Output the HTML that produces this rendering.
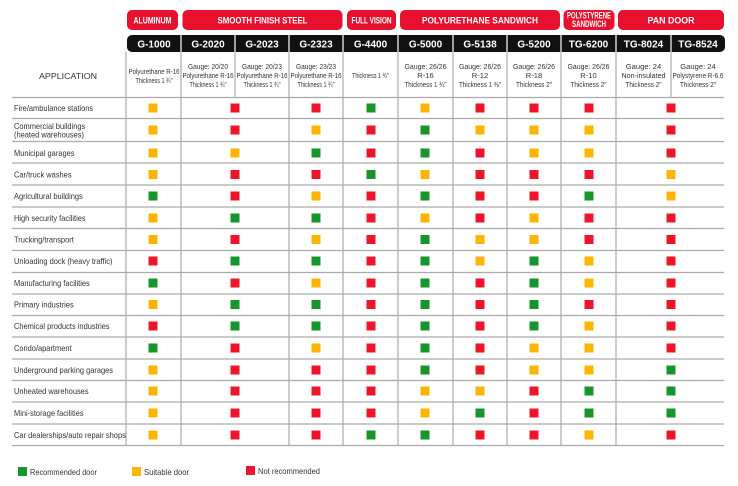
<!DOCTYPE html>
<html><head><meta charset="utf-8"><style>
html,body{margin:0;padding:0;background:#fff;width:738px;height:486px;overflow:hidden}
svg{display:block}
.h{font-family:"Liberation Sans",sans-serif;font-weight:bold;fill:#fff;font-size:9px;text-anchor:middle}
.k{font-family:"Liberation Sans",sans-serif;font-weight:bold;fill:#fff;font-size:10px;text-anchor:middle}
.d{font-family:"Liberation Sans",sans-serif;fill:#333;font-size:7.6px;text-anchor:middle}
.a{font-family:"Liberation Sans",sans-serif;fill:#333;font-size:8.3px}
.g{fill:#14962a}.y{fill:#ffb400}.r{fill:#f0142a}
</style></head><body>
<svg width="738" height="486" viewBox="0 0 738 486">
<rect x="127" y="10" width="51" height="20" rx="5" fill="#e8112d"/>
<rect x="182.5" y="10" width="160" height="20" rx="5" fill="#e8112d"/>
<rect x="347" y="10" width="49" height="20" rx="5" fill="#e8112d"/>
<rect x="400" y="10" width="160" height="20" rx="5" fill="#e8112d"/>
<rect x="563.5" y="10" width="51" height="20" rx="5" fill="#e8112d"/>
<rect x="618" y="10" width="106" height="20" rx="5" fill="#e8112d"/>
<text class="h" x="152.5" y="23.5" font-size="8" textLength="38" lengthAdjust="spacingAndGlyphs">ALUMINUM</text>
<text class="h" x="262.5" y="23.5" textLength="90" lengthAdjust="spacingAndGlyphs">SMOOTH FINISH STEEL</text>
<text class="h" x="371.5" y="23.5" font-size="8" textLength="40" lengthAdjust="spacingAndGlyphs">FULL VISION</text>
<text class="h" x="480" y="23.5" textLength="116" lengthAdjust="spacingAndGlyphs">POLYURETHANE SANDWICH</text>
<text class="h" x="589" y="18.5" font-size="7" textLength="44" lengthAdjust="spacingAndGlyphs">POLYSTYRENE</text>
<text class="h" x="589" y="27" font-size="7" textLength="34" lengthAdjust="spacingAndGlyphs">SANDWICH</text>
<text class="h" x="671" y="23.5" textLength="47" lengthAdjust="spacingAndGlyphs">PAN DOOR</text>
<rect x="127" y="35" width="598" height="17" rx="5" fill="#111"/>
<g stroke="#fff" stroke-width="1.2">
<line x1="181" y1="35" x2="181" y2="52"/><line x1="235" y1="35" x2="235" y2="52"/><line x1="289" y1="35" x2="289" y2="52"/><line x1="343" y1="35" x2="343" y2="52"/><line x1="398" y1="35" x2="398" y2="52"/><line x1="453" y1="35" x2="453" y2="52"/><line x1="507" y1="35" x2="507" y2="52"/><line x1="561" y1="35" x2="561" y2="52"/><line x1="616" y1="35" x2="616" y2="52"/><line x1="671" y1="35" x2="671" y2="52"/>
</g>
<text class="k" x="154" y="47.5">G-1000</text>
<text class="k" x="208" y="47.5">G-2020</text>
<text class="k" x="262" y="47.5">G-2023</text>
<text class="k" x="316" y="47.5">G-2323</text>
<text class="k" x="370.5" y="47.5">G-4400</text>
<text class="k" x="425.5" y="47.5">G-5000</text>
<text class="k" x="480" y="47.5">G-5138</text>
<text class="k" x="534" y="47.5">G-5200</text>
<text class="k" x="588.5" y="47.5">TG-6200</text>
<text class="k" x="643.5" y="47.5">TG-8024</text>
<text class="k" x="698" y="47.5">TG-8524</text>
<g stroke="#999" stroke-width="1">
<line x1="126" y1="52" x2="126" y2="445"/><line x1="181" y1="52" x2="181" y2="445"/><line x1="289" y1="52" x2="289" y2="445"/><line x1="343" y1="52" x2="343" y2="445"/><line x1="398" y1="52" x2="398" y2="445"/><line x1="453" y1="52" x2="453" y2="445"/><line x1="507" y1="52" x2="507" y2="445"/><line x1="561" y1="52" x2="561" y2="445"/><line x1="616" y1="52" x2="616" y2="445"/>
<line x1="235" y1="52" x2="235" y2="97"/><line x1="671" y1="52" x2="671" y2="97"/>
</g>
<g stroke="#aaa" stroke-width="1.2">
<line x1="12" y1="97.5" x2="724" y2="97.5"/><line x1="12" y1="118.5" x2="724" y2="118.5"/><line x1="12" y1="141.5" x2="724" y2="141.5"/><line x1="12" y1="163" x2="724" y2="163"/><line x1="12" y1="185" x2="724" y2="185"/><line x1="12" y1="207" x2="724" y2="207"/><line x1="12" y1="228.5" x2="724" y2="228.5"/><line x1="12" y1="250.5" x2="724" y2="250.5"/><line x1="12" y1="272.5" x2="724" y2="272.5"/><line x1="12" y1="294" x2="724" y2="294"/><line x1="12" y1="315.5" x2="724" y2="315.5"/><line x1="12" y1="337" x2="724" y2="337"/><line x1="12" y1="359" x2="724" y2="359"/><line x1="12" y1="380.5" x2="724" y2="380.5"/><line x1="12" y1="402" x2="724" y2="402"/><line x1="12" y1="424" x2="724" y2="424"/><line x1="12" y1="445.5" x2="724" y2="445.5"/>
</g>
<text class="a" x="68" y="79" text-anchor="middle" font-size="10.5" textLength="58" lengthAdjust="spacingAndGlyphs">APPLICATION</text>
<text class="d" x="154" y="74" textLength="51" lengthAdjust="spacingAndGlyphs">Polyurethane R-16</text><text class="d" x="154" y="83" textLength="37" lengthAdjust="spacingAndGlyphs">Thickness 1 ¾"</text>
<text class="d" x="208" y="69" textLength="40" lengthAdjust="spacingAndGlyphs">Gauge: 20/20</text><text class="d" x="208" y="78" textLength="51" lengthAdjust="spacingAndGlyphs">Polyurethane R-16</text><text class="d" x="208" y="87" textLength="37" lengthAdjust="spacingAndGlyphs">Thickness 1 ¾"</text>
<text class="d" x="262" y="69" textLength="40" lengthAdjust="spacingAndGlyphs">Gauge: 20/23</text><text class="d" x="262" y="78" textLength="51" lengthAdjust="spacingAndGlyphs">Polyurethane R-16</text><text class="d" x="262" y="87" textLength="37" lengthAdjust="spacingAndGlyphs">Thickness 1 ¾"</text>
<text class="d" x="316" y="69" textLength="40" lengthAdjust="spacingAndGlyphs">Gauge: 23/23</text><text class="d" x="316" y="78" textLength="51" lengthAdjust="spacingAndGlyphs">Polyurethane R-16</text><text class="d" x="316" y="87" textLength="37" lengthAdjust="spacingAndGlyphs">Thickness 1 ¾"</text>
<text class="d" x="370.5" y="78" textLength="37" lengthAdjust="spacingAndGlyphs">Thickness 1 ¾"</text>
<text class="d" x="425.5" y="69" textLength="42" lengthAdjust="spacingAndGlyphs">Gauge: 26/26</text><text class="d" x="425.5" y="78">R-16</text><text class="d" x="425.5" y="87" textLength="42" lengthAdjust="spacingAndGlyphs">Thickness 1 ¾"</text>
<text class="d" x="480" y="69" textLength="42" lengthAdjust="spacingAndGlyphs">Gauge: 26/26</text><text class="d" x="480" y="78">R-12</text><text class="d" x="480" y="87" textLength="42" lengthAdjust="spacingAndGlyphs">Thickness 1 ⅜"</text>
<text class="d" x="534" y="69" textLength="42" lengthAdjust="spacingAndGlyphs">Gauge: 26/26</text><text class="d" x="534" y="78">R-18</text><text class="d" x="534" y="87" textLength="36" lengthAdjust="spacingAndGlyphs">Thickness 2"</text>
<text class="d" x="588.5" y="69" textLength="42" lengthAdjust="spacingAndGlyphs">Gauge: 26/26</text><text class="d" x="588.5" y="78">R-10</text><text class="d" x="588.5" y="87" textLength="36" lengthAdjust="spacingAndGlyphs">Thickness 2"</text>
<text class="d" x="643.5" y="69">Gauge: 24</text><text class="d" x="643.5" y="78" textLength="44" lengthAdjust="spacingAndGlyphs">Non-insulated</text><text class="d" x="643.5" y="87" textLength="36" lengthAdjust="spacingAndGlyphs">Thickness 2"</text>
<text class="d" x="698" y="69">Gauge: 24</text><text class="d" x="698" y="78" textLength="51" lengthAdjust="spacingAndGlyphs">Polystyrene R-6.6</text><text class="d" x="698" y="87" textLength="36" lengthAdjust="spacingAndGlyphs">Thickness 2"</text>
<g transform="translate(14,0) scale(0.9,1)">
<text class="a" x="0" y="111">Fire/ambulance stations</text>
<text class="a" x="0" y="129">Commercial buildings</text><text class="a" x="0" y="137.5">(heated warehouses)</text>
<text class="a" x="0" y="156">Municipal garages</text>
<text class="a" x="0" y="177.5">Car/truck washes</text>
<text class="a" x="0" y="199">Agricultural buildings</text>
<text class="a" x="0" y="221">High security facilities</text>
<text class="a" x="0" y="242.5">Trucking/transport</text>
<text class="a" x="0" y="264">Unloading dock (heavy traffic)</text>
<text class="a" x="0" y="286">Manufacturing facilities</text>
<text class="a" x="0" y="307.5">Primary industries</text>
<text class="a" x="0" y="329">Chemical products industries</text>
<text class="a" x="0" y="351">Condo/apartment</text>
<text class="a" x="0" y="373">Underground parking garages</text>
<text class="a" x="0" y="394">Unheated warehouses</text>
<text class="a" x="0" y="416">Mini-storage facilities</text>
<text class="a" x="0" y="438">Car dealerships/auto repair shops</text>
</g>
<g transform="translate(0,103.5)"><rect class="y" x="148.5" width="9" height="9"/><rect class="r" x="230.5" width="9" height="9"/><rect class="r" x="311.5" width="9" height="9"/><rect class="g" x="366.5" width="9" height="9"/><rect class="y" x="420.5" width="9" height="9"/><rect class="r" x="475.5" width="9" height="9"/><rect class="r" x="529.5" width="9" height="9"/><rect class="r" x="584.5" width="9" height="9"/><rect class="r" x="666.5" width="9" height="9"/></g>
<g transform="translate(0,125.5)"><rect class="y" x="148.5" width="9" height="9"/><rect class="r" x="230.5" width="9" height="9"/><rect class="y" x="311.5" width="9" height="9"/><rect class="r" x="366.5" width="9" height="9"/><rect class="g" x="420.5" width="9" height="9"/><rect class="y" x="475.5" width="9" height="9"/><rect class="y" x="529.5" width="9" height="9"/><rect class="y" x="584.5" width="9" height="9"/><rect class="r" x="666.5" width="9" height="9"/></g>
<g transform="translate(0,148.5)"><rect class="y" x="148.5" width="9" height="9"/><rect class="y" x="230.5" width="9" height="9"/><rect class="g" x="311.5" width="9" height="9"/><rect class="r" x="366.5" width="9" height="9"/><rect class="g" x="420.5" width="9" height="9"/><rect class="r" x="475.5" width="9" height="9"/><rect class="y" x="529.5" width="9" height="9"/><rect class="y" x="584.5" width="9" height="9"/><rect class="r" x="666.5" width="9" height="9"/></g>
<g transform="translate(0,170)"><rect class="y" x="148.5" width="9" height="9"/><rect class="r" x="230.5" width="9" height="9"/><rect class="r" x="311.5" width="9" height="9"/><rect class="g" x="366.5" width="9" height="9"/><rect class="y" x="420.5" width="9" height="9"/><rect class="r" x="475.5" width="9" height="9"/><rect class="r" x="529.5" width="9" height="9"/><rect class="r" x="584.5" width="9" height="9"/><rect class="y" x="666.5" width="9" height="9"/></g>
<g transform="translate(0,191.5)"><rect class="g" x="148.5" width="9" height="9"/><rect class="r" x="230.5" width="9" height="9"/><rect class="y" x="311.5" width="9" height="9"/><rect class="r" x="366.5" width="9" height="9"/><rect class="g" x="420.5" width="9" height="9"/><rect class="r" x="475.5" width="9" height="9"/><rect class="r" x="529.5" width="9" height="9"/><rect class="g" x="584.5" width="9" height="9"/><rect class="y" x="666.5" width="9" height="9"/></g>
<g transform="translate(0,213.5)"><rect class="y" x="148.5" width="9" height="9"/><rect class="g" x="230.5" width="9" height="9"/><rect class="g" x="311.5" width="9" height="9"/><rect class="r" x="366.5" width="9" height="9"/><rect class="y" x="420.5" width="9" height="9"/><rect class="r" x="475.5" width="9" height="9"/><rect class="y" x="529.5" width="9" height="9"/><rect class="r" x="584.5" width="9" height="9"/><rect class="r" x="666.5" width="9" height="9"/></g>
<g transform="translate(0,235)"><rect class="y" x="148.5" width="9" height="9"/><rect class="r" x="230.5" width="9" height="9"/><rect class="y" x="311.5" width="9" height="9"/><rect class="r" x="366.5" width="9" height="9"/><rect class="g" x="420.5" width="9" height="9"/><rect class="y" x="475.5" width="9" height="9"/><rect class="y" x="529.5" width="9" height="9"/><rect class="r" x="584.5" width="9" height="9"/><rect class="r" x="666.5" width="9" height="9"/></g>
<g transform="translate(0,256.5)"><rect class="r" x="148.5" width="9" height="9"/><rect class="g" x="230.5" width="9" height="9"/><rect class="g" x="311.5" width="9" height="9"/><rect class="r" x="366.5" width="9" height="9"/><rect class="g" x="420.5" width="9" height="9"/><rect class="y" x="475.5" width="9" height="9"/><rect class="g" x="529.5" width="9" height="9"/><rect class="y" x="584.5" width="9" height="9"/><rect class="r" x="666.5" width="9" height="9"/></g>
<g transform="translate(0,278.5)"><rect class="g" x="148.5" width="9" height="9"/><rect class="r" x="230.5" width="9" height="9"/><rect class="y" x="311.5" width="9" height="9"/><rect class="r" x="366.5" width="9" height="9"/><rect class="g" x="420.5" width="9" height="9"/><rect class="r" x="475.5" width="9" height="9"/><rect class="g" x="529.5" width="9" height="9"/><rect class="y" x="584.5" width="9" height="9"/><rect class="r" x="666.5" width="9" height="9"/></g>
<g transform="translate(0,300)"><rect class="y" x="148.5" width="9" height="9"/><rect class="g" x="230.5" width="9" height="9"/><rect class="g" x="311.5" width="9" height="9"/><rect class="r" x="366.5" width="9" height="9"/><rect class="g" x="420.5" width="9" height="9"/><rect class="r" x="475.5" width="9" height="9"/><rect class="g" x="529.5" width="9" height="9"/><rect class="r" x="584.5" width="9" height="9"/><rect class="r" x="666.5" width="9" height="9"/></g>
<g transform="translate(0,321.5)"><rect class="r" x="148.5" width="9" height="9"/><rect class="g" x="230.5" width="9" height="9"/><rect class="g" x="311.5" width="9" height="9"/><rect class="r" x="366.5" width="9" height="9"/><rect class="g" x="420.5" width="9" height="9"/><rect class="r" x="475.5" width="9" height="9"/><rect class="g" x="529.5" width="9" height="9"/><rect class="y" x="584.5" width="9" height="9"/><rect class="r" x="666.5" width="9" height="9"/></g>
<g transform="translate(0,343.5)"><rect class="g" x="148.5" width="9" height="9"/><rect class="r" x="230.5" width="9" height="9"/><rect class="y" x="311.5" width="9" height="9"/><rect class="r" x="366.5" width="9" height="9"/><rect class="g" x="420.5" width="9" height="9"/><rect class="r" x="475.5" width="9" height="9"/><rect class="y" x="529.5" width="9" height="9"/><rect class="y" x="584.5" width="9" height="9"/><rect class="r" x="666.5" width="9" height="9"/></g>
<g transform="translate(0,365.5)"><rect class="y" x="148.5" width="9" height="9"/><rect class="r" x="230.5" width="9" height="9"/><rect class="r" x="311.5" width="9" height="9"/><rect class="r" x="366.5" width="9" height="9"/><rect class="g" x="420.5" width="9" height="9"/><rect class="r" x="475.5" width="9" height="9"/><rect class="y" x="529.5" width="9" height="9"/><rect class="y" x="584.5" width="9" height="9"/><rect class="g" x="666.5" width="9" height="9"/></g>
<g transform="translate(0,386.5)"><rect class="y" x="148.5" width="9" height="9"/><rect class="r" x="230.5" width="9" height="9"/><rect class="r" x="311.5" width="9" height="9"/><rect class="r" x="366.5" width="9" height="9"/><rect class="y" x="420.5" width="9" height="9"/><rect class="y" x="475.5" width="9" height="9"/><rect class="r" x="529.5" width="9" height="9"/><rect class="g" x="584.5" width="9" height="9"/><rect class="g" x="666.5" width="9" height="9"/></g>
<g transform="translate(0,408.5)"><rect class="y" x="148.5" width="9" height="9"/><rect class="r" x="230.5" width="9" height="9"/><rect class="r" x="311.5" width="9" height="9"/><rect class="r" x="366.5" width="9" height="9"/><rect class="y" x="420.5" width="9" height="9"/><rect class="g" x="475.5" width="9" height="9"/><rect class="r" x="529.5" width="9" height="9"/><rect class="g" x="584.5" width="9" height="9"/><rect class="g" x="666.5" width="9" height="9"/></g>
<g transform="translate(0,430.5)"><rect class="y" x="148.5" width="9" height="9"/><rect class="r" x="230.5" width="9" height="9"/><rect class="r" x="311.5" width="9" height="9"/><rect class="g" x="366.5" width="9" height="9"/><rect class="g" x="420.5" width="9" height="9"/><rect class="r" x="475.5" width="9" height="9"/><rect class="r" x="529.5" width="9" height="9"/><rect class="y" x="584.5" width="9" height="9"/><rect class="r" x="666.5" width="9" height="9"/></g>
<rect class="g" x="18" y="467" width="9" height="9"/><text class="a" x="30" y="475" textLength="67" lengthAdjust="spacingAndGlyphs">Recommended door</text>
<rect class="y" x="132" y="467" width="9" height="9"/><text class="a" x="144" y="475" textLength="45" lengthAdjust="spacingAndGlyphs">Suitable door</text>
<rect class="r" x="246" y="466" width="9" height="9"/><text class="a" x="258" y="474" textLength="62" lengthAdjust="spacingAndGlyphs">Not recommended</text>
</svg>
</body></html>
